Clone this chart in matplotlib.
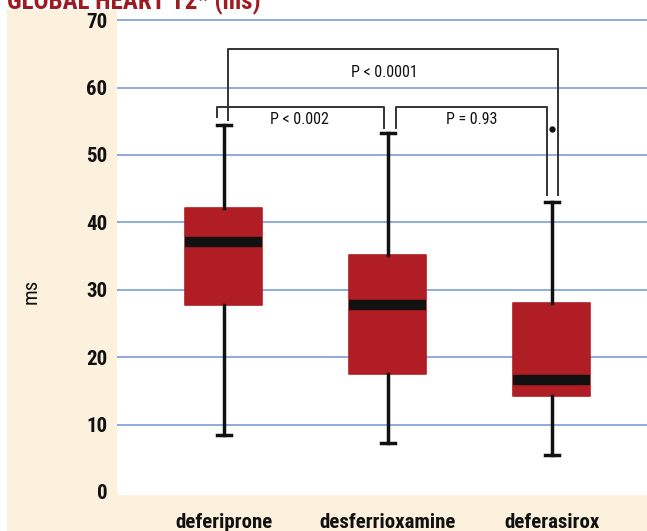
import matplotlib
matplotlib.use("Agg")
import matplotlib.pyplot as plt
from matplotlib.patches import Rectangle
from matplotlib import font_manager

# look for a narrow font, fall back to Liberation Sans
fonts = font_manager.fontManager.ttflist
names = set(f.name for f in fonts)
stretch = 'normal'
if 'Liberation Sans Narrow' in names:
    base = 'Liberation Sans Narrow'
elif 'Roboto Condensed' in names:
    base = 'Roboto Condensed'
elif any(f.name == 'DejaVu Sans' and f.stretch == 'condensed' for f in fonts):
    base = 'DejaVu Sans'
    stretch = 'condensed'
else:
    base = 'Liberation Sans'
plt.rcParams['font.family'] = [base, 'DejaVu Sans']
plt.rcParams['font.stretch'] = stretch
narrow = base != 'Liberation Sans'

# data (ms)
drugs = ['deferiprone', 'desferrioxamine', 'deferasirox']
whisker_low = [8.5, 7.3, 5.5]
q1 = [27.8, 17.5, 14.3]
median = [37.1, 27.8, 16.6]
q3 = [42.2, 35.1, 28.1]
whisker_high = [54.4, 53.2, 43.0]
outliers = [[], [], [53.8]]

# brackets: x from, x to, top, left leg end, right leg end, label, label x, label y
brackets = [
    (1.024, 3.04, 65.7, 55.2, 44.1, 'P < 0.0001', 1.98, 62.3),
    (0.957, 1.976, 57.1, 55.6, 54.0, 'P < 0.002', 1.46, 55.3),
    (2.05, 2.97, 57.1, 54.0, 44.1, 'P = 0.93', 2.51, 55.3),
]

red = '#b01d24'
beige = '#fcf1dc'
ink = '#111111'

fig = plt.figure(figsize=(6.47, 5.31), dpi=100)
fig.patch.set_facecolor('white')
fig.patches.append(Rectangle((7 / 647, 0), 1, 1 - 10 / 531, transform=fig.transFigure,
                             facecolor=beige, edgecolor='none', zorder=-10))

ax = fig.add_axes([117 / 647, 1 - 495 / 531, 1 - 117 / 647, 485 / 531])
ax.set_facecolor('white')

stats = []
for i in range(len(drugs)):
    stats.append(dict(whislo=whisker_low[i], q1=q1[i], med=median[i], q3=q3[i],
                      whishi=whisker_high[i], fliers=outliers[i]))

ax.bxp(stats, positions=[1, 2, 3], widths=0.47, patch_artist=True, showfliers=True,
       boxprops=dict(facecolor=red, edgecolor=red, linewidth=1.2, joinstyle='round'),
       medianprops=dict(color=ink, linewidth=7.5, solid_capstyle='butt'),
       whiskerprops=dict(color=ink, linewidth=2.5),
       capprops=dict(color=ink, linewidth=2.5),
       capwidths=0.09,
       flierprops=dict(marker='o', markersize=3.5, markerfacecolor=ink,
                       markeredgecolor=ink),
       zorder=3)

for x1, x2, top, yl, yr, label, tx, ty in brackets:
    ax.plot([x1, x1, x2, x2], [yl, top, top, yr], color='#333333', lw=1.4, zorder=4)
    ax.text(tx, ty, label, ha='center', va='center', fontsize=11.5 if narrow else 10.5,
            color=ink)

ax.set_ylim(-0.45, 71.5)
ax.set_xlim(0.348, 3.58)
ax.set_yticks(range(0, 80, 10))
ax.set_yticklabels([str(v) for v in range(0, 80, 10)], fontsize=15 if narrow else 14,
                   color=ink, fontweight='bold')
ax.set_xticks([])
for v in range(10, 80, 10):
    ax.axhline(v, color='#7393d4', lw=1.1, zorder=1)
ax.tick_params(axis='y', length=0, pad=7)
for s in ax.spines.values():
    s.set_visible(False)

ax.set_ylabel('ms', fontsize=15, color=ink)
ax.yaxis.set_label_coords(-0.145, 0.42)

for i, name in enumerate(drugs):
    ax.annotate(name, xy=(i + 1, 0), xycoords='data', xytext=(0, -22),
                textcoords='offset points', ha='center', va='center',
                fontsize=15 if narrow else 13, fontweight='bold', color=ink,
                annotation_clip=False)

# title, mostly cut off by the top edge as in the source
fig.text(7 / 647, 1 - 9 / 531, 'GLOBAL HEART T2* (ms)', ha='left', va='baseline',
         fontsize=18, fontweight='bold', color='#9e1b22')

fig.savefig('out.png', dpi=100, facecolor=fig.get_facecolor())
